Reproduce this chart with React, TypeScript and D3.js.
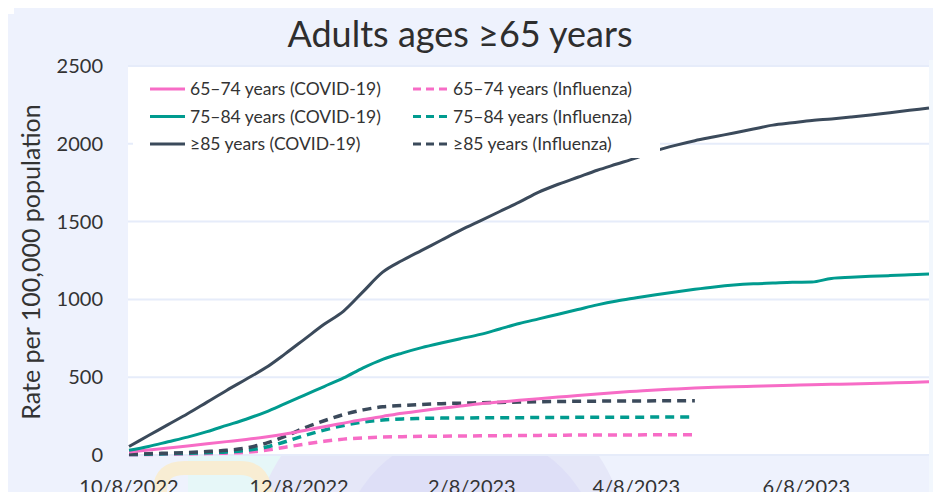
import React, { useEffect, useRef } from 'react';
import * as d3 from 'd3';

// week ending dates (Saturdays)
const weeks = [
  '2022-10-08', '2022-10-15', '2022-10-22', '2022-10-29', '2022-11-05', '2022-11-12', '2022-11-19',
  '2022-11-26', '2022-12-03', '2022-12-10', '2022-12-17', '2022-12-24', '2022-12-31', '2023-01-07',
  '2023-01-14', '2023-01-21', '2023-01-28', '2023-02-04', '2023-02-11', '2023-02-18', '2023-02-25',
  '2023-03-04', '2023-03-11', '2023-03-18', '2023-03-25', '2023-04-01', '2023-04-08', '2023-04-15',
  '2023-04-22', '2023-04-29', '2023-05-06', '2023-05-13', '2023-05-20', '2023-05-27', '2023-06-03',
  '2023-06-10', '2023-06-17', '2023-06-24', '2023-07-01', '2023-07-08', '2023-07-15', '2023-07-22'
];

const covid65 = [20, 32, 45, 58, 72, 86, 100, 116, 135, 158, 182, 205, 228, 248, 268, 285, 300, 315, 330, 340, 352,
  362, 372, 382, 392, 402, 410, 418, 424, 430, 435, 439, 442, 445, 448, 451, 454, 457, 460, 463, 466, 470];
const covid75 = [30, 55, 85, 115, 150, 190, 230, 276, 330, 385, 440, 495, 560, 615, 655, 690, 720, 748, 775, 810, 845,
  875, 905, 935, 965, 990, 1010, 1030, 1048, 1065, 1080, 1092, 1100, 1105, 1110, 1112, 1135, 1142, 1148, 1153, 1158, 1163];
const covid85 = [55, 125, 195, 265, 340, 415, 487, 560, 650, 745, 840, 925, 1050, 1175, 1250, 1315, 1380, 1445, 1505,
  1565, 1625, 1690, 1740, 1785, 1830, 1870, 1910, 1955, 1990, 2020, 2045, 2070, 2095, 2120, 2135, 2150, 2160, 2172,
  2185, 2200, 2215, 2230];

const flu65 = [2, 3, 5, 7, 9, 12, 18, 30, 50, 70, 88, 102, 110, 115, 118, 120, 121, 122, 123, 124, 125, 126, 127, 128,
  128, 129, 129, 130, 130, 131];
const flu75 = [3, 5, 8, 11, 15, 20, 30, 50, 85, 125, 160, 190, 212, 225, 232, 235, 237, 238, 239, 240, 240, 241, 241,
  242, 242, 243, 243, 244, 244, 244];
const flu85 = [5, 8, 12, 16, 22, 30, 45, 75, 120, 175, 220, 260, 290, 310, 318, 325, 330, 333, 336, 338, 340, 342, 344,
  345, 346, 347, 347, 348, 348, 348];

const yTicks = [0, 500, 1000, 1500, 2000, 2500];
const xTicks = ['2022-10-08', '2022-12-08', '2023-02-08', '2023-04-08', '2023-06-08'];

const seriesList = [
  { name: '65–74 years (COVID-19)', values: covid65, color: '#f76cc6', dashed: false },
  { name: '75–84 years (COVID-19)', values: covid75, color: '#009b8f', dashed: false },
  { name: '≥85 years (COVID-19)', values: covid85, color: '#3b4a5b', dashed: false },
  { name: '65–74 years (Influenza)', values: flu65, color: '#f76cc6', dashed: true },
  { name: '75–84 years (Influenza)', values: flu75, color: '#009b8f', dashed: true },
  { name: '≥85 years (Influenza)', values: flu85, color: '#3b4a5b', dashed: true }
];

const W = 941;
const H = 500;
const FONT = 'Lato, "Open Sans", sans-serif';

export default function App() {
  const ref = useRef<SVGSVGElement>(null);

  useEffect(() => {
    const svg = d3.select(ref.current);
    svg.selectAll('*').remove();

    const parse = d3.timeParse('%Y-%m-%d');
    const dates = weeks.map(w => parse(w) as Date);

    const x = d3.scaleTime()
      .domain([dates[0], dates[dates.length - 1]])
      .range([129, 929]);
    const y = d3.scaleLinear().domain([0, 2500]).range([455, 66]);

    // slide background
    svg.append('rect').attr('width', W).attr('height', H).attr('fill', '#eef2fd');
    svg.append('rect').attr('width', 14).attr('height', 14).attr('fill', '#ffffff');

    // faint decorative shapes behind the axis labels
    const deco = svg.append('g');
    deco.append('rect').attr('x', 188).attr('y', 456).attr('width', 170).attr('height', 44).attr('fill', '#e6f7f8');
    deco.append('circle').attr('cx', 440).attr('cy', 560).attr('r', 190).attr('fill', '#e5e7f8');
    deco.append('circle').attr('cx', 470).attr('cy', 560).attr('r', 130).attr('fill', '#dedff7');
    deco.append('path')
      .attr('d', 'M160,500 L160,490 Q160,468 185,468 L240,468 Q262,468 265,490 L268,500')
      .attr('fill', 'none').attr('stroke', '#f8edd3').attr('stroke-width', 14);
    deco.append('rect').attr('x', 929).attr('y', 60).attr('width', 12).attr('height', 440).attr('fill', '#f2f7fd');

    // plot area
    svg.append('rect').attr('x', 128).attr('y', 66).attr('width', 801).attr('height', 390).attr('fill', '#ffffff');

    // gridlines
    svg.append('g')
      .selectAll('line')
      .data(yTicks)
      .enter()
      .append('line')
      .attr('x1', 128)
      .attr('x2', 929)
      .attr('y1', d => y(d))
      .attr('y2', d => y(d))
      .attr('stroke', '#e6ecfa')
      .attr('stroke-width', 2);

    // y tick labels
    svg.append('g')
      .selectAll('text')
      .data(yTicks)
      .enter()
      .append('text')
      .attr('x', 103)
      .attr('y', d => y(d))
      .attr('dy', '0.35em')
      .attr('text-anchor', 'end')
      .attr('font-family', FONT)
      .attr('font-size', 20)
      .attr('fill', '#333')
      .text(d => d);

    // x tick labels
    svg.append('g')
      .selectAll('text')
      .data(xTicks)
      .enter()
      .append('text')
      .attr('x', d => x(parse(d) as Date))
      .attr('y', 494)
      .attr('text-anchor', 'middle')
      .attr('font-family', FONT)
      .attr('font-size', 20)
      .attr('fill', '#333')
      .text(d => {
        const dt = parse(d) as Date;
        return `${dt.getMonth() + 1}/${dt.getDate()}/${dt.getFullYear()}`;
      });

    // axis title
    svg.append('text')
      .attr('transform', 'translate(40,262) rotate(-90)')
      .attr('text-anchor', 'middle')
      .attr('font-family', FONT)
      .attr('font-size', 25)
      .attr('fill', '#333')
      .text('Rate per 100,000 population');

    // chart title
    svg.append('text')
      .attr('x', 460)
      .attr('y', 47)
      .attr('text-anchor', 'middle')
      .attr('font-family', FONT)
      .attr('font-size', 36)
      .attr('fill', '#2e2e2e')
      .text('Adults ages ≥65 years');

    const line = d3.line<number>()
      .x((_, i) => x(dates[i]))
      .y(d => y(d))
      .curve(d3.curveMonotoneX);

    // influenza first, covid on top
    const drawOrder = [3, 4, 5, 0, 1, 2];
    drawOrder.forEach(k => {
      const s = seriesList[k];
      svg.append('path')
        .attr('d', line(s.values))
        .attr('fill', 'none')
        .attr('stroke', s.color)
        .attr('stroke-width', s.dashed ? 3.5 : 3)
        .attr('stroke-dasharray', s.dashed ? '9,6' : null)
        .attr('stroke-linecap', 'butt');
    });

    // legend
    const lg = svg.append('g');
    lg.append('rect').attr('x', 133).attr('y', 72).attr('width', 527).attr('height', 86).attr('fill', '#ffffff');
    seriesList.forEach((s, i) => {
      const col = Math.floor(i / 3);
      const row = i % 3;
      const lx = col === 0 ? 150 : 413;
      const ly = 89 + row * 27.5;
      lg.append('line')
        .attr('x1', lx)
        .attr('x2', lx + 35)
        .attr('y1', ly)
        .attr('y2', ly)
        .attr('stroke', s.color)
        .attr('stroke-width', 3)
        .attr('stroke-dasharray', s.dashed ? '8,5' : null);
      lg.append('text')
        .attr('x', lx + 40)
        .attr('y', ly)
        .attr('dy', '0.35em')
        .attr('font-family', FONT)
        .attr('font-size', 17.5)
        .attr('fill', '#333')
        .text(s.name);
    });
  }, []);

  return (
    <div style={{ margin: -8, width: W, height: H, overflow: 'hidden' }}>
      <svg ref={ref} width={W} height={H} style={{ display: 'block' }} />
    </div>
  );
}
